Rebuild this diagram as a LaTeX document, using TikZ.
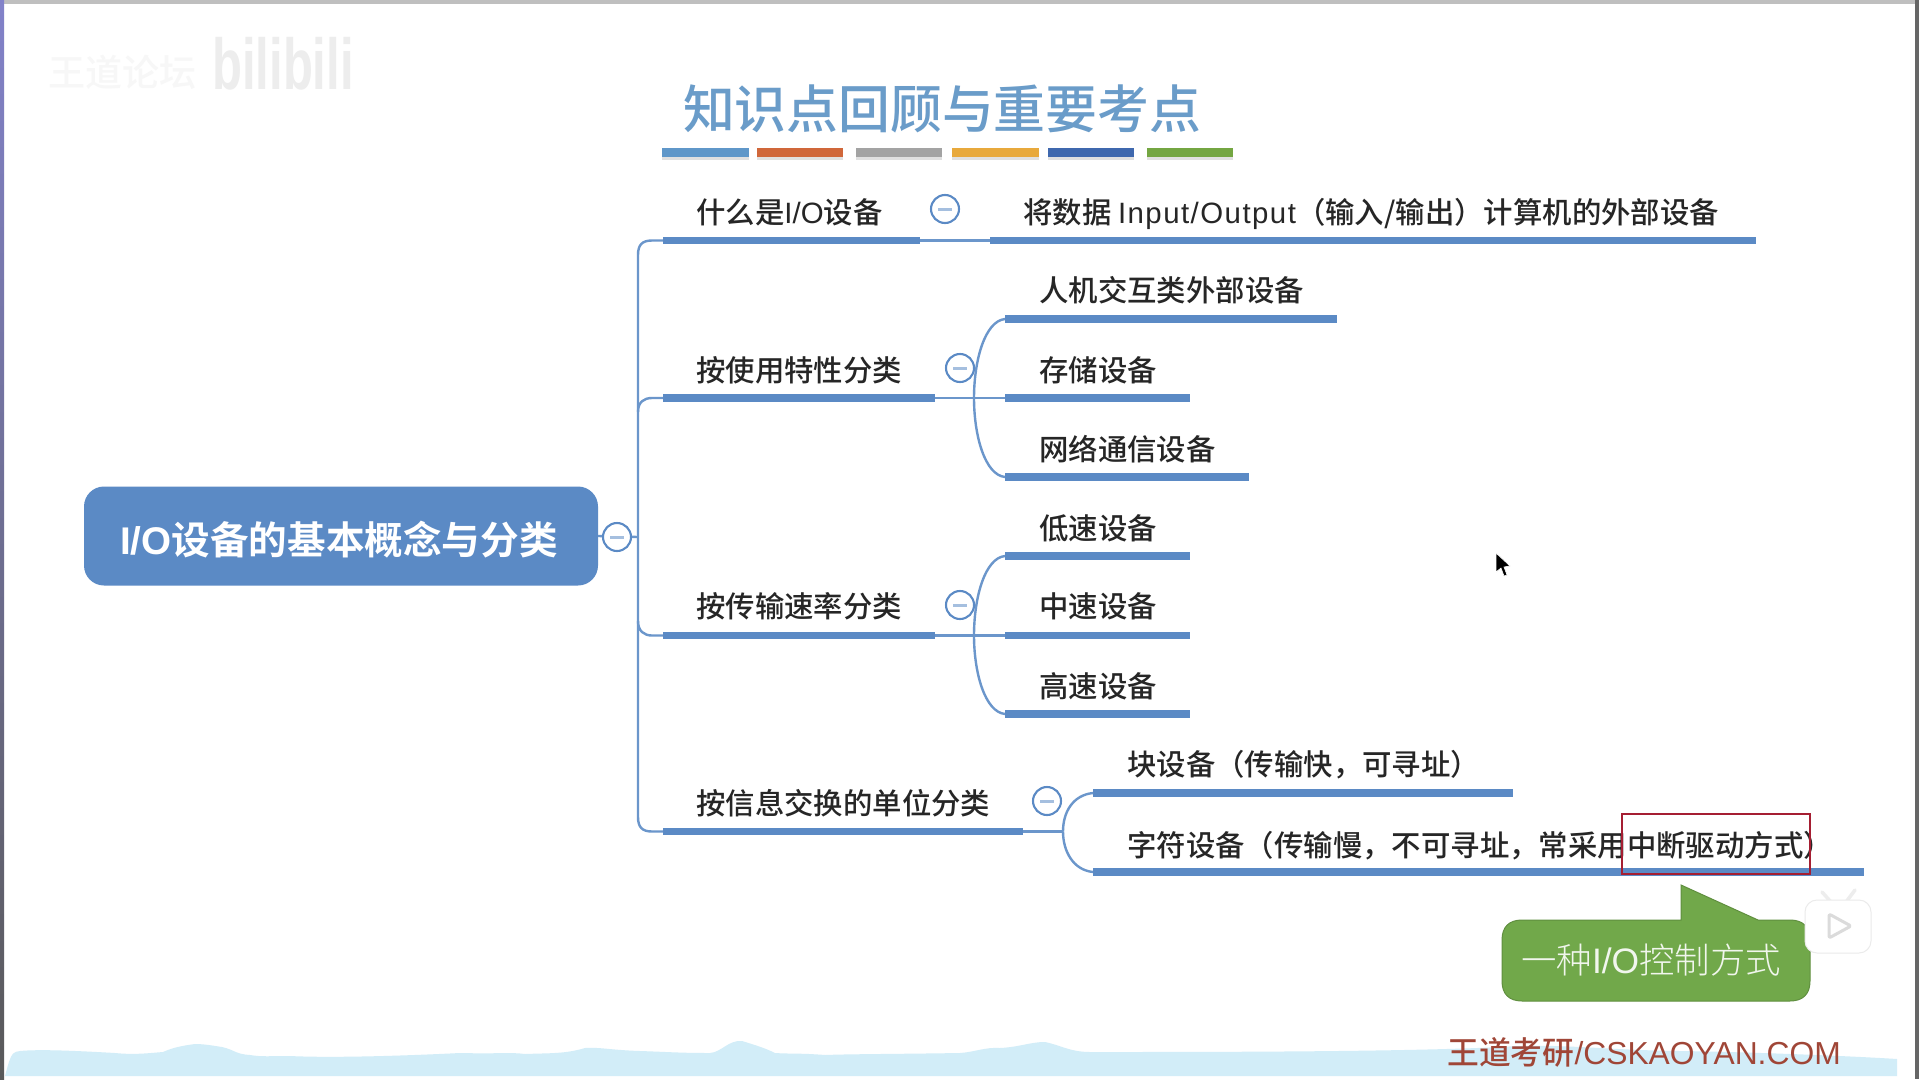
\documentclass[tikz,border=0pt]{standalone}
\usepackage{fontspec}
\setmainfont{Noto Sans CJK SC}[UprightFont=* Medium]
\newfontfamily\cjkbold{Noto Sans CJK SC Bold}
\newfontfamily\cjklight{Noto Sans CJK SC Light}
\newfontfamily\latinf{Liberation Sans}
\newfontfamily\latins[LetterSpace=5]{Liberation Sans}
\newcommand{\lat}[1]{{\latinf #1}}
\newcommand{\latb}[1]{{\latinf\bfseries #1}}
\usetikzlibrary{calc}
\definecolor{bluem}{HTML}{5B8AC5}
\definecolor{greenm}{HTML}{71A84A}
\definecolor{titleb}{HTML}{6A9CC9}
\definecolor{wave}{HTML}{D2EDF8}
\tikzset{
  bar/.style={line width=7.5pt,draw=bluem,line cap=butt},
  thin link/.style={line width=2.4pt,draw=bluem!90!white},
  lab/.style={anchor=west,inner sep=0pt,text height=26pt,text depth=3.5pt,font=\fontsize{29.4}{32}\selectfont,text=black!85},
  collapse/.style={circle,draw=bluem,line width=2.1pt,fill=white,minimum size=28pt,inner sep=0pt,path picture={\draw[line width=3pt,bluem!55!white] ($(path picture bounding box.center)+(-7pt,0)$) -- ($(path picture bounding box.center)+(7pt,0)$);}},
  ubar/.style={line width=9.5pt},
}
\begin{document}
\begin{tikzpicture}[x=1pt,y=-1pt]
\useasboundingbox (0,0) rectangle (1919,1079);
\fill[white] (0,0) rectangle (1919,1079);
% window frame
\fill[black!25] (0,0) rectangle (1919,4);
\shade[top color=blue!40!gray!70,bottom color=black!65] (0,0) rectangle (4,1079);
\fill[black!60] (1915,0) rectangle (1919,1079);
% wave
\fill[wave] (5,1076) -- (8,1065) .. controls (12,1052) and (14,1052) .. (20,1051) .. controls (40,1049) and (80,1051) .. (115,1053) .. controls (135,1055) and (150,1053) .. (163,1052) .. controls (172,1048) and (180,1046) .. (195,1044) .. controls (205,1044) and (215,1046) .. (222,1047) .. controls (235,1050) and (235,1054) .. (250,1055) .. controls (262,1057) and (270,1056) .. (290,1056) .. controls (330,1058) and (400,1056) .. (460,1053) .. controls (500,1054) and (510,1052) .. (525,1054) .. controls (550,1053) and (565,1054) .. (585,1048) .. controls (600,1047) and (610,1050) .. (640,1051) .. controls (670,1052) and (680,1053) .. (710,1053) .. controls (722,1052) and (728,1040) .. (742,1041) .. controls (755,1045) and (765,1048) .. (775,1053) .. controls (790,1054) and (800,1053) .. (825,1055) .. controls (850,1054) and (900,1054) .. (960,1053) .. controls (975,1052) and (985,1047) .. (1000,1048) .. controls (1020,1047) and (1030,1042) .. (1045,1042) .. controls (1060,1045) and (1070,1052) .. (1090,1052) .. controls (1200,1052) and (1400,1052) .. (1500,1047) .. controls (1560,1043) and (1600,1050) .. (1680,1051) .. controls (1750,1052) and (1850,1056) .. (1897,1059) -- (1897,1076) -- cycle;
% watermark
\node[inner sep=0pt,font=\fontsize{37}{40}\selectfont,text=black!3] at (122,72) {王道论坛};
\node[inner sep=0pt,xscale=.68,font=\latinf\bfseries\fontsize{72}{76}\selectfont,text=black!7] at (283,64) {bilibili};
% title
\node[inner sep=0pt,font=\fontsize{51.8}{56}\selectfont,text=titleb] (title) at (942,108.5) {知识点回顾与重要考点};
\foreach \a/\b/\c in {662/749/5F97C9,757/843/D0673A,856/942/A3A3A3,952/1039/E8A93C,1048/1134/3F68AE,1147/1233/74A642}{
  \definecolor{tmp}{HTML}{\c}
  \draw[line width=3pt,draw=black!12] (\a,158.5) -- (\b,158.5);
  \draw[ubar,draw=tmp] (\a,152.5) -- (\b,152.5);
}
% root
\node[fill=bluem,rounded corners=20pt,minimum width=514pt,minimum height=99pt,inner sep=0pt] (root) at (341,536) {};
\node[inner sep=0pt,text=white,font=\cjkbold\fontsize{38.6}{42}\selectfont] (roottext) at (339,539.5) {\latb{I/O}设备的基本概念与分类};
\draw[thin link] (root.east) -- (638,537);
\node[collapse] (cr) at (617,537) {};
% first level labels
\node[lab] (a) at (696,212) {什么是\lat{I/O}设备};
\node[lab] (b) at (696,370) {按使用特性分类};
\node[lab] (c) at (696,606) {按传输速率分类};
\node[lab] (d) at (696,803) {按信息交换的单位分类};
% first level bars
\coordinate (as) at (663,240.5); \coordinate (ae) at (920,240.5);
\coordinate (bs) at (663,398); \coordinate (be) at (935,398);
\coordinate (cs) at (663,635.5); \coordinate (ce) at (935,635.5);
\coordinate (ds) at (663,831.5); \coordinate (de) at (1023,831.5);
\draw[bar] (as) -- (ae);
\draw[bar] (bs) -- (be);
\draw[bar] (cs) -- (ce);
\draw[bar] (ds) -- (de);
% trunk
\draw[thin link] (as) -- (652,240.5) .. controls (642,240.5) and (638,245) .. (638,255) -- (638,817) .. controls (638,827) and (642,831.5) .. (652,831.5) -- (ds);
\draw[thin link] (bs) -- (652,398) .. controls (644,398) and (638,402) .. (638,412);
\draw[thin link] (cs) -- (652,635.5) .. controls (644,635.5) and (638,631) .. (638,621);
% second level
\node[lab] (a1) at (1023,212) {将数据 {\latins Input/Output}（输入/输出）计算机的外部设备};
\coordinate (a1s) at (990,240.5); \coordinate (a1e) at (1756,240.5);
\draw[bar] (a1s) -- (a1e);
\draw[thin link] (ae) -- (a1s);
\node[collapse] (ca) at (945,209) {};

\node[lab] (b1) at (1039,290) {人机交互类外部设备};
\node[lab] (b2) at (1039,370) {存储设备};
\node[lab] (b3) at (1039,449) {网络通信设备};
\coordinate (b1s) at (1005,319); \coordinate (b1e) at (1337,319);
\coordinate (b2s) at (1005,398); \coordinate (b2e) at (1190,398);
\coordinate (b3s) at (1005,477); \coordinate (b3e) at (1249,477);
\draw[bar] (b1s) -- (b1e);
\draw[bar] (b2s) -- (b2e);
\draw[bar] (b3s) -- (b3e);
\draw[thin link] (be) -- (b2s);
\coordinate (bm) at (974,398);
\draw[thin link] (bm) .. controls (974,360) and (985,321) .. (b1s);
\draw[thin link] (bm) .. controls (974,436) and (985,475) .. (b3s);
\node[collapse] (cb) at (960,368) {};

\node[lab] (c1) at (1039,528) {低速设备};
\node[lab] (c2) at (1039,606) {中速设备};
\node[lab] (c3) at (1039,686) {高速设备};
\coordinate (c1s) at (1005,556); \coordinate (c1e) at (1190,556);
\coordinate (c2s) at (1005,635.5); \coordinate (c2e) at (1190,635.5);
\coordinate (c3s) at (1005,714); \coordinate (c3e) at (1190,714);
\draw[bar] (c1s) -- (c1e);
\draw[bar] (c2s) -- (c2e);
\draw[bar] (c3s) -- (c3e);
\draw[thin link] (ce) -- (c2s);
\coordinate (cm) at (974,635.5);
\draw[thin link] (cm) .. controls (974,597) and (985,558) .. (c1s);
\draw[thin link] (cm) .. controls (974,673) and (985,712) .. (c3s);
\node[collapse] (cc) at (960,605) {};

\node[lab] (d1) at (1127,764) {块设备（传输快，可寻址）};
\node[lab] (d2) at (1127,845) {字符设备（传输慢，不可寻址，常采用中断驱动方式）};
\coordinate (d1s) at (1093,793); \coordinate (d1e) at (1513,793);
\coordinate (d2s) at (1093,872); \coordinate (d2e) at (1864,872);
\draw[bar] (d1s) -- (d1e);
\draw[bar] (d2s) -- (d2e);
\coordinate (dm) at (1063,831.5);
\draw[thin link] (de) -- (dm);
\draw[thin link] (dm) .. controls (1063,812) and (1073,795) .. (d1s);
\draw[thin link] (dm) .. controls (1063,851) and (1073,870) .. (d2s);
\node[collapse] (cd) at (1047,801) {};
% highlight
\node[draw={rgb,255:red,165;green,30;blue,50},line width=2.5pt,minimum width=188pt,minimum height=60pt,inner sep=0pt] (hl) at (1716,844) {};
% callout
\fill[greenm,draw=greenm!85!black,line width=1pt] (1522,920) -- (1681,920) -- (1681,885) -- (1758,920) -- (1790,920) .. controls (1803,920) and (1810,927) .. (1810,940) -- (1810,981) .. controls (1810,994) and (1803,1001) .. (1790,1001) -- (1522,1001) .. controls (1509,1001) and (1502,994) .. (1502,981) -- (1502,940) .. controls (1502,927) and (1509,920) .. (1522,920) -- cycle;
\node[inner sep=0pt,font=\cjklight\fontsize{35.4}{40}\selectfont,text=white!90!greenm] (cal) at (1651,960) {一种\lat{I/O}控制方式};
% bilibili play icon
\draw[black!7,line width=3.5pt,line cap=round] (1822,892) -- (1831,902) (1855,890) -- (1846,902);
\fill[white,draw=black!8,line width=1pt,rounded corners=12pt] (1805,900) rectangle (1871,953);
\draw[black!14,line width=3pt,fill=white,rounded corners=2pt,line join=round] (1829,914) -- (1851,926) -- (1829,938) -- cycle;
% footer
\node[inner sep=0pt,font=\fontsize{31.8}{36}\selectfont,text={rgb,255:red,160;green,70;blue,55}] (foot) at (1644,1052) {王道考研\lat{/CSKAOYAN.COM}};
% cursor
\fill[black,draw=white,line width=.6pt] (1496,553) -- (1496,572) -- (1501,568) -- (1504,576) -- (1507,575) -- (1504,567) -- (1510,566) -- cycle;
\end{tikzpicture}
\end{document}
